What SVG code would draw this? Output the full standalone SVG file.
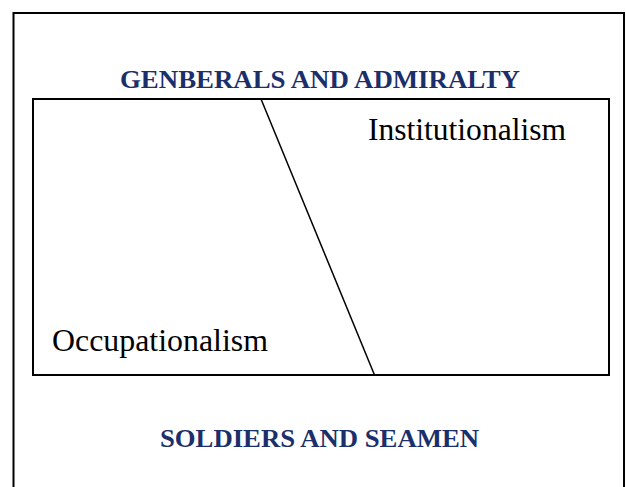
<svg xmlns="http://www.w3.org/2000/svg" width="626" height="487" viewBox="0 0 626 487">
  <style>
    .frame { fill: #ffffff; stroke: #000000; stroke-width: 2; }
    .box { fill: none; stroke: #000000; stroke-width: 2; }
    .conn { stroke: #000000; stroke-width: 1.5; fill: none; }
    .head { font-family: "Liberation Serif", "Times New Roman", serif; font-weight: bold; font-size: 26px; fill: #1b2f6b; }
    .lbl { font-family: "Liberation Serif", "Times New Roman", serif; font-size: 31px; fill: #000000; }
  </style>
  <rect x="0" y="0" width="626" height="487" fill="#ffffff"/>
  <rect class="frame" x="13.5" y="13" width="610.5" height="490"/>
  <g id="top-label">
    <text class="head" x="120" y="88" textLength="400" lengthAdjust="spacingAndGlyphs">GENBERALS AND ADMIRALTY</text>
  </g>
  <g id="spectrum-box">
    <rect class="box" x="33" y="99" width="576" height="276"/>
  </g>
  <g id="institutionalism">
    <text class="lbl" x="368" y="140" textLength="198" lengthAdjust="spacingAndGlyphs">Institutionalism</text>
  </g>
  <g id="occupationalism">
    <text class="lbl" x="52" y="351" textLength="216" lengthAdjust="spacingAndGlyphs">Occupationalism</text>
  </g>
  <g id="bottom-label">
    <text class="head" x="160" y="447" textLength="319" lengthAdjust="spacingAndGlyphs">SOLDIERS AND SEAMEN</text>
  </g>
  <g id="connectors">
    <line class="conn" x1="261" y1="99" x2="374.5" y2="375"/>
  </g>
</svg>
